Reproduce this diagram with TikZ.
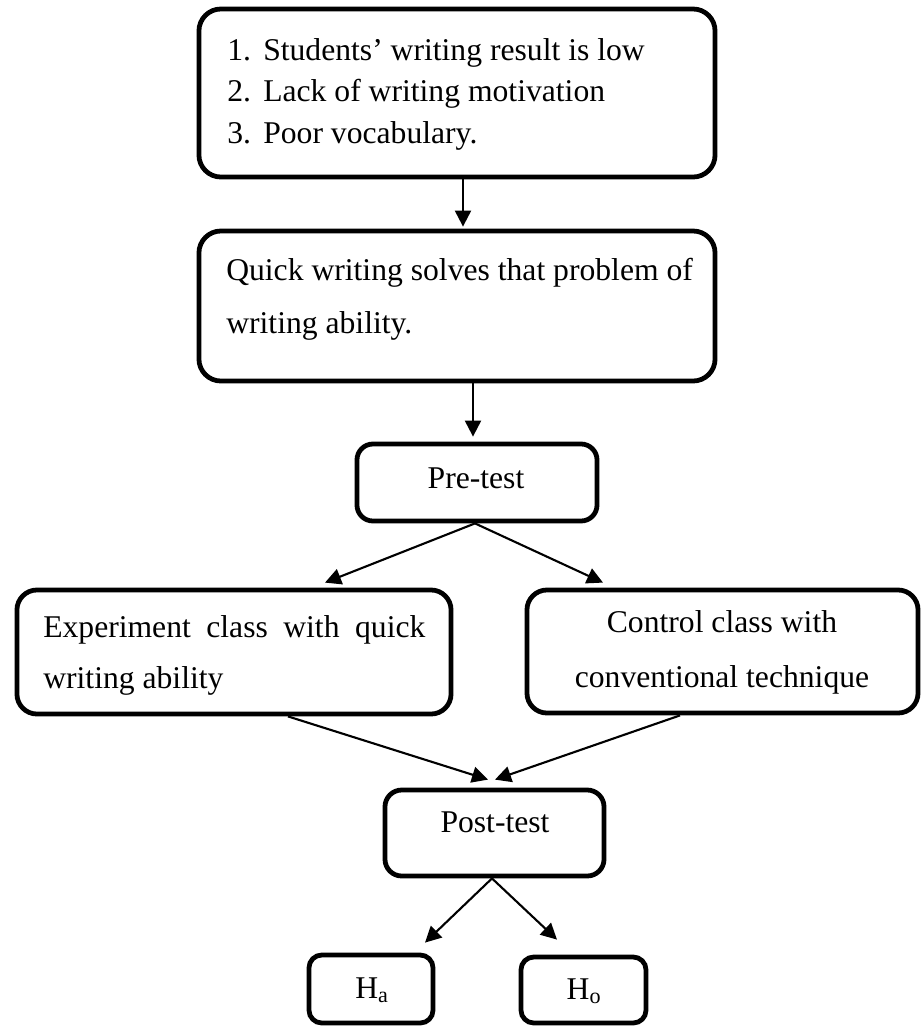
\documentclass[tikz,border=0pt]{standalone}
\usepackage{fontspec}
\setmainfont{Liberation Serif}
\usetikzlibrary{arrows.meta,calc}
\tikzset{
  box/.style={draw, line width=3.4pt, rounded corners=#1, inner sep=0pt},
  box/.default=0.5cm,
  txt/.style={font=\fontsize{22.5}{27}\selectfont, inner sep=0pt, anchor=base},
  arr/.style={line width=1.5pt, -{Triangle[length=0.4cm,width=0.4cm]}}
}
\begin{document}
\begin{tikzpicture}[x=0.025cm, y=-0.025cm]
  \useasboundingbox (0,0) rectangle (922,1028);
  % boxes
  \node[box=0.55cm, minimum width=12.9cm, minimum height=4.2cm] (prob) at ({457}, 93) {};
  \node[box=0.55cm, minimum width=12.9cm, minimum height=3.75cm] (solve) at ({457}, 306) {};
  \node[box=0.4cm, minimum width=6cm, minimum height=1.925cm] (pre) at ({477}, 482.5) {};
  \node[box=0.5cm, minimum width=10.85cm, minimum height=3.1cm] (exp) at ({234}, 652) {};
  \node[box=0.5cm, minimum width=9.775cm, minimum height=3.075cm] (ctrl) at ({722.5}, 651.5) {};
  \node[box=0.42cm, minimum width=5.475cm, minimum height=2.15cm] (post) at ({494.5}, 833) {};
  \node[box=0.32cm, minimum width=3.1cm, minimum height=1.7cm] (ha) at ({371}, 989) {};
  \node[box=0.32cm, minimum width=3.125cm, minimum height=1.65cm] (ho) at ({583.5}, 990) {};
  % texts
  \foreach \txt [count=\i] in
    {
        Students’ writing result is low,
        Lack of writing motivation,
        Poor vocabulary.
    }
    {
        \node[txt, anchor=base west] (item\i) at ({227}, {18.5+41.5*\i}) {\makebox[0.9cm][l]{\i.}\txt};
    }
  \node[txt, anchor=base west] (solve1) at ({226}, 280) {Quick writing solves that problem of};
  \node[txt, anchor=base west] (solve2) at ({226}, 333) {writing ability.};
  \node[txt] (pretxt) at ({476}, 488) {Pre-test};
  \node[txt, anchor=base west] (exp1) at ({43}, 637) {\makebox[9.55cm][s]{Experiment class with quick}};
  \node[txt, anchor=base west] (exp2) at ({43}, 688) {writing ability};
  \node[txt] (ctrl1) at ({722}, 632) {Control class with};
  \node[txt] (ctrl2) at ({722}, 687) {conventional technique};
  \node[txt] (posttxt) at ({495}, 832) {Post-test};
  \node[txt] (hatxt) at ({372}, 998) {H\textsubscript{a}};
  \node[txt] (hotxt) at ({584}, 999) {H\textsubscript{o}};
  % arrows
  \draw[arr] ($(prob.south)+(6,0)$) -- ($(solve.north)+(6,-2)$);
  \draw[arr] ($(solve.south)+(16,0)$) -- ($(pre.north)+(-4,-5)$);
  \draw[arr] ($(pre.south)+(-2,0)$) -- ($(exp.north)+(91,-5)$);
  \draw[arr] ($(pre.south)+(-2,0)$) -- ($(ctrl.north)+(-119.5,-5)$);
  \draw[arr] ($(exp.south)+(54,0)$) -- ($(post.north)+(-6.5,-8)$);
  \draw[arr] ($(ctrl.south)+(-42.5,0)$) -- ($(post.north)+(0.5,-8)$);
  \draw[arr] ($(post.south)+(-2.5,0)$) -- ($(ha.north)+(54,-10)$);
  \draw[arr] ($(post.south)+(-2.5,0)$) -- ($(ho.north)+(-26.5,-15)$);
\end{tikzpicture}
\end{document}
